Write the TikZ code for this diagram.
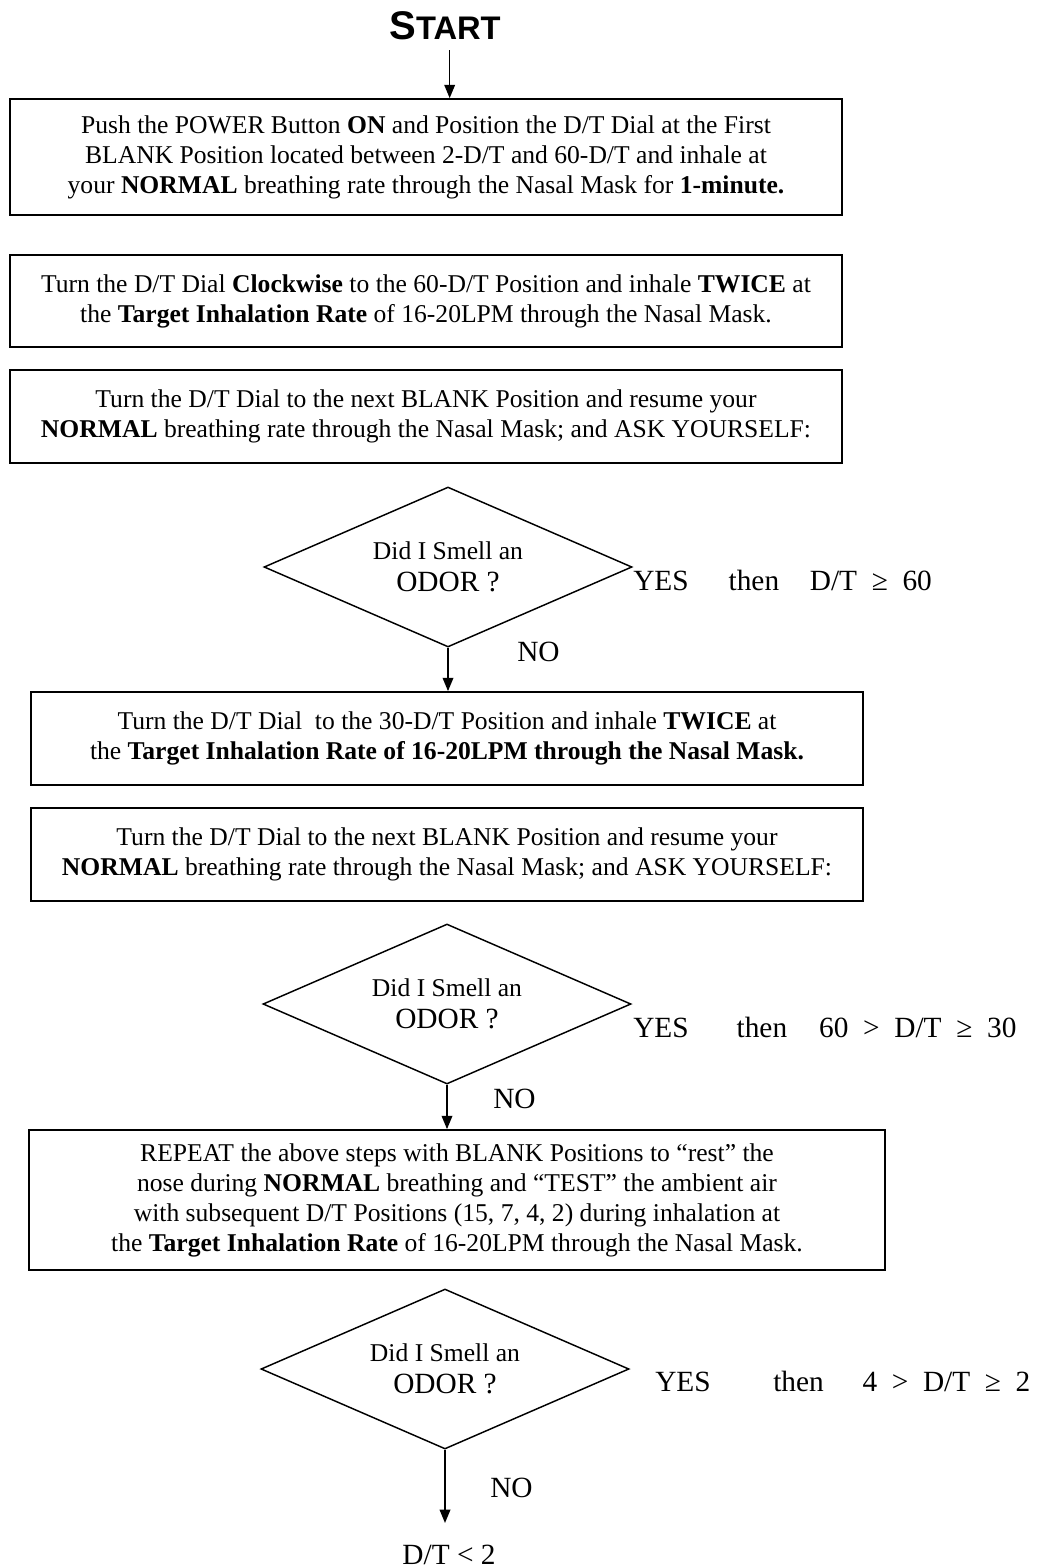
\documentclass[tikz,border=0pt]{standalone}
\usepackage{fontspec}
\setmainfont{Liberation Serif}
\newfontfamily\startfont{Liberation Sans}
\usetikzlibrary{shapes.geometric,arrows.meta}
\begin{document}
\begin{tikzpicture}[x=0.75pt,y=-0.75pt,
  stepbox/.style={draw=black,line width=1.3pt,align=center,inner sep=0pt,
    font=\fontsize{19.2}{22.5}\selectfont},
  decide/.style={draw=black,line width=1.1pt,diamond,aspect=2.3,inner sep=0pt,
    minimum width=0.75*368pt,minimum height=0.75*160pt,align=center,
    font=\fontsize{19.2}{24}\selectfont},
  lbl/.style={inner sep=0pt,font=\fontsize{22}{24}\selectfont},
  arr/.style={line width=1.1pt,-{Triangle[width=8pt,length=10pt]}}]
\useasboundingbox (0,0) rectangle (1047,1568);

\node[inner sep=0pt,anchor=base] (start) at (445,39)
  {\startfont\bfseries\fontsize{30}{30}\selectfont S\fontsize{24.5}{24.5}\selectfont TART};

\node[stepbox,minimum width=0.75*832pt,minimum height=0.75*116pt] (b1) at (426,157)
  {Push the POWER Button \textbf{ON} and Position the D/T Dial at the First\\
   BLANK Position located between 2-D/T and 60-D/T and inhale at\\
   your \textbf{NORMAL} breathing rate through the Nasal Mask for \textbf{1-minute.}};

\node[stepbox,minimum width=0.75*832pt,minimum height=0.75*92pt] (b2) at (426,301)
  {Turn the D/T Dial \textbf{Clockwise} to the 60-D/T Position and inhale \textbf{TWICE} at\\
   the \textbf{Target Inhalation Rate} of 16-20LPM through the Nasal Mask.};

\node[stepbox,minimum width=0.75*832pt,minimum height=0.75*93pt] (b3) at (426,416.5)
  {Turn the D/T Dial to the next BLANK Position and resume your\\
   \textbf{NORMAL} breathing rate through the Nasal Mask; and ASK YOURSELF:};

\node[decide] (d1) at (448,567)
  {Did I Smell an\\ {\fontsize{22}{24}\selectfont ODOR ?}};

\node[lbl,anchor=base west] (y1) at (633,590)
  {YES\hspace{30pt}then\hspace{23pt}D/T\ \ ≥\ \ 60};
\node[lbl,anchor=base west] (n1) at (517,661) {NO};

\node[stepbox,minimum width=0.75*832pt,minimum height=0.75*93pt] (b4) at (447,738.5)
  {Turn the D/T Dial\ \ to the 30-D/T Position and inhale \textbf{TWICE} at\\
   the \textbf{Target Inhalation Rate of 16-20LPM through the Nasal Mask.}};

\node[stepbox,minimum width=0.75*832pt,minimum height=0.75*93pt] (b5) at (447,854.5)
  {Turn the D/T Dial to the next BLANK Position and resume your\\
   \textbf{NORMAL} breathing rate through the Nasal Mask; and ASK YOURSELF:};

\node[decide] (d2) at (447,1004)
  {Did I Smell an\\ {\fontsize{22}{24}\selectfont ODOR ?}};

\node[lbl,anchor=base west] (y2) at (633,1037)
  {YES\hspace{36pt}then\hspace{24pt}60\ \ >\ \ D/T\ \ ≥\ \ 30};
\node[lbl,anchor=base west] (n2) at (493,1108) {NO};

\node[stepbox,minimum width=0.75*856pt,minimum height=0.75*140pt] (b6) at (457,1200)
  {REPEAT the above steps with BLANK Positions to “rest” the\\
   nose during \textbf{NORMAL} breathing and “TEST” the ambient air\\
   with subsequent D/T Positions (15, 7, 4, 2) during inhalation at\\
   the \textbf{Target Inhalation Rate} of 16-20LPM through the Nasal Mask.};

\node[decide] (d3) at (445,1369)
  {Did I Smell an\\ {\fontsize{22}{24}\selectfont ODOR ?}};

\node[lbl,anchor=base west] (y3) at (655,1391)
  {YES\hspace{47pt}then\hspace{29pt}4\ \ >\ \ D/T\ \ ≥\ \ 2};
\node[lbl,anchor=base west] (n3) at (490,1497) {NO};

\node[lbl,anchor=base] (fin) at (449,1564) {D/T < 2};

\draw[arr,shorten <=8pt] ([xshift=3.5pt]start.south) -- ([xshift=3.5pt]start.south |- b1.north);
\draw[arr] (d1.south) -- (d1.south |- b4.north);
\draw[arr] (d2.south) -- (d2.south |- b6.north);
\draw[arr,shorten >=16pt] (d3.south) -- (d3.south |- fin.north);
\end{tikzpicture}
\end{document}
